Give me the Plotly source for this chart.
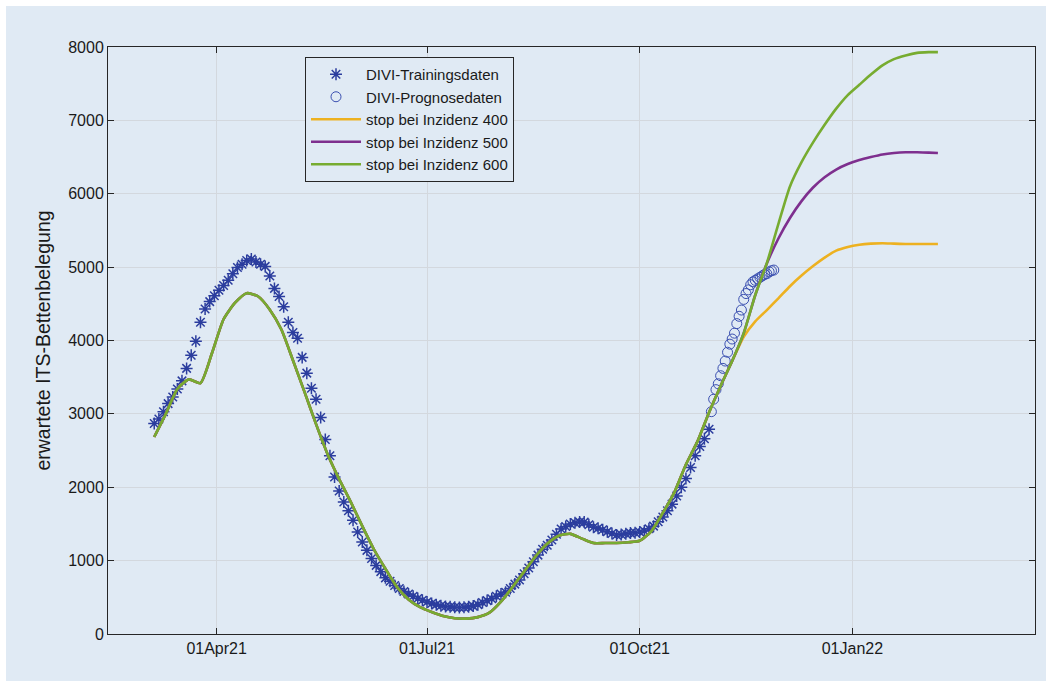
import pandas as pd
import plotly.graph_objects as go

# ---------------- data ----------------
train_dates = pd.date_range("2021-03-05", "2021-10-31", freq="2D")
train_vals = [2870, 2930, 3030, 3140, 3230, 3340, 3450, 3620, 3800, 3990,
              4250, 4430, 4530, 4610, 4685, 4750, 4820, 4910, 4995, 5040,
              5090, 5110, 5070, 5040, 5010, 4880, 4710, 4600, 4460, 4250,
              4110, 4030, 3770, 3555, 3350, 3200, 2950, 2650, 2430, 2140,
              1950, 1800, 1680, 1550, 1390, 1255, 1140, 1030, 935, 850,
              765, 720, 660, 620, 580, 545, 515, 485, 460, 435,
              415, 400, 385, 375, 370, 365, 362, 365, 370, 380,
              400, 430, 455, 480, 515, 545, 570, 620, 680, 735,
              820, 900, 985, 1075, 1155, 1210, 1280, 1360, 1430, 1465,
              1500, 1515, 1525, 1525, 1490, 1455, 1440, 1420, 1395, 1370,
              1350, 1355, 1365, 1375, 1380, 1390, 1405, 1435, 1470, 1530,
              1595, 1680, 1770, 1880, 2000, 2120, 2270, 2430, 2555, 2660,
              2790]

prog_dates = pd.date_range("2021-11-01", periods=28, freq="D")
prog_vals = [3030, 3200, 3330, 3410, 3520, 3620, 3720, 3840, 3950, 4020,
             4100, 4230, 4330, 4415, 4560, 4640, 4690, 4760, 4800, 4820,
             4840, 4860, 4880, 4900, 4910, 4935, 4950, 4960]

line_dates = list(pd.date_range("2021-03-05", periods=68, freq="5D")) + [pd.Timestamp("2022-02-07")]
common_part = [2685, 3000, 3340, 3470, 3420, 3830, 4290, 4515, 4645, 4600,
               4420, 4150, 3730, 3300, 2860, 2450, 2110, 1800, 1470, 1155,
               890, 640, 470, 365, 300, 245, 215, 210, 230, 290,
               440, 640, 850, 1060, 1230, 1340, 1365, 1300, 1240, 1240,
               1240, 1250, 1270, 1400, 1650, 1930, 2310, 2625, 3020, 3380,
               3720]
tail_400 = [4050, 4260, 4415, 4575, 4740, 4885, 5015, 5130, 5225, 5275,
            5305, 5320, 5325, 5320, 5315, 5315, 5315, 5315]
tail_500 = [4100, 4620, 5050, 5390, 5670, 5900, 6085, 6225, 6330, 6405,
            6460, 6500, 6535, 6555, 6565, 6565, 6560, 6555]
tail_600 = [4100, 4620, 5055, 5590, 6100, 6430, 6700, 6940, 7160, 7345,
            7485, 7625, 7750, 7835, 7885, 7920, 7930, 7930]

x_tick_vals = ["2021-04-01", "2021-07-01", "2021-10-01", "2022-01-01"]
y_tick_vals = [0, 1000, 2000, 3000, 4000, 5000, 6000, 7000, 8000]

# ---------------- style ----------------
BG = "#e0eaf4"
AX = "#262626"
GRID = "#d3d8de"
FONT = "Liberation Sans, Arial, sans-serif"
STAR = "#2b3d9e"
CIRC = "#3a4fb0"

fig = go.Figure()
fig.add_trace(go.Scatter(x=train_dates, y=train_vals, mode="markers",
                         name="DIVI-Trainingsdaten",
                         marker=dict(symbol="asterisk-open", size=10, color=STAR,
                                     line=dict(color=STAR, width=1.5))))
fig.add_trace(go.Scatter(x=prog_dates, y=prog_vals, mode="markers",
                         name="DIVI-Prognosedaten",
                         marker=dict(symbol="circle-open", size=10, color=CIRC,
                                     line=dict(color=CIRC, width=1))))
for nm, tail, col in [("stop bei Inzidenz 400", tail_400, "#EDB120"),
                      ("stop bei Inzidenz 500", tail_500, "#7E2F8E"),
                      ("stop bei Inzidenz 600", tail_600, "#77AC30")]:
    fig.add_trace(go.Scatter(x=line_dates, y=common_part + tail, mode="lines",
                             name=nm,
                             line=dict(color=col, width=2.6, shape="spline", smoothing=0.6)))

L, R, T, B = 108, 17, 47, 53
W, H = 1052, 687
pw, ph = W - L - R, H - T - B
fig.add_shape(type="rect", xref="paper", yref="paper", layer="below",
              x0=(6 - L) / pw, x1=(W - 6 - L) / pw,
              y0=-(B - 6) / ph, y1=(H - 6 - B) / ph,
              fillcolor=BG, line=dict(width=0))

fig.update_layout(
    width=W, height=H,
    margin=dict(l=L, r=R, t=T, b=B),
    paper_bgcolor="white", plot_bgcolor=BG,
    font=dict(family=FONT, size=16, color="#1a1a1a"),
    showlegend=True,
    legend=dict(x=(305 - L) / pw, y=(634 - 57) / ph, xanchor="left", yanchor="top",
                bgcolor=BG, bordercolor=AX, borderwidth=1, itemwidth=50,
                font=dict(size=15, family=FONT, color="#1a1a1a"),
                tracegroupgap=0),
    xaxis=dict(type="date", range=["2021-02-13", "2022-03-21"],
               tickvals=x_tick_vals, tickformat="%d%b%y",
               ticks="inside", ticklen=6, tickcolor=AX, tickwidth=1,
               showline=True, linecolor=AX, linewidth=1, mirror="ticks",
               showgrid=True, gridcolor=GRID, gridwidth=1, zeroline=False,
               tickfont=dict(size=16)),
    yaxis=dict(range=[0, 8000], tickvals=y_tick_vals,
               ticks="inside", ticklen=6, tickcolor=AX, tickwidth=1,
               showline=True, linecolor=AX, linewidth=1, mirror="ticks",
               showgrid=True, gridcolor=GRID, gridwidth=1, zeroline=False,
               tickfont=dict(size=16),
               title=dict(text="erwartete ITS-Bettenbelegung", font=dict(size=19.5), standoff=12)),
)

fig.write_html("out.html", config={"displayModeBar": False},
               post_script="document.body.style.margin='0px';")
